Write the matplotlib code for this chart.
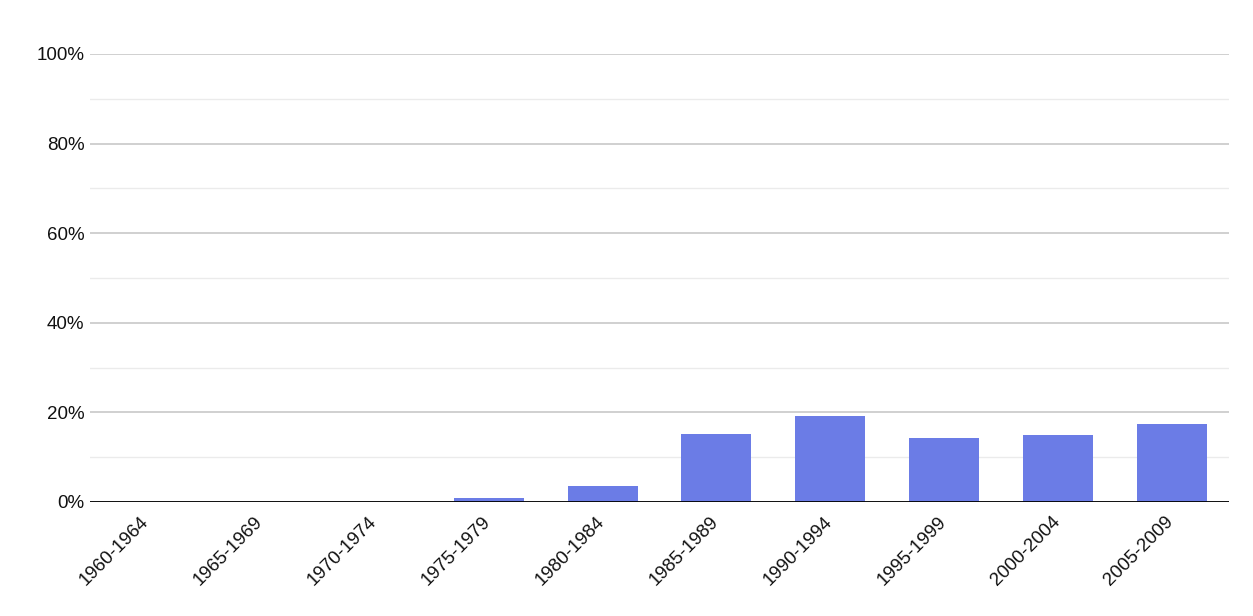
import numpy as np
import matplotlib.pyplot as plt
import matplotlib.transforms as mtransforms
from matplotlib.ticker import MultipleLocator, FuncFormatter

plt.rcParams['font.family'] = ['Liberation Sans', 'DejaVu Sans']

periods = ['1960-1964', '1965-1969', '1970-1974', '1975-1979', '1980-1984',
           '1985-1989', '1990-1994', '1995-1999', '2000-2004', '2005-2009']
shares = [0.0, 0.0, 0.0, 0.8, 3.6, 15.2, 19.2, 14.2, 14.9, 17.5]

fig = plt.figure(figsize=(12.53, 6.16), dpi=100)
ax = fig.add_axes([90/1253, 1 - 502/616, (1229-90)/1253, (502-54)/616])

x = np.arange(len(periods))
ax.bar(x, shares, width=0.614, color='#6b7ce6', zorder=3)

ax.set_xlim(-0.5, len(periods) - 0.5)
ax.set_ylim(0, 100)
ax.yaxis.set_major_locator(MultipleLocator(20))
ax.yaxis.set_minor_locator(MultipleLocator(10))
ax.yaxis.set_major_formatter(FuncFormatter(lambda v, p: f'{v:.0f}%'))
ax.grid(axis='y', which='major', color='#c4c4c4', linewidth=1.1, zorder=0)
ax.grid(axis='y', which='minor', color='#ebebeb', linewidth=1.0, zorder=0)
ax.axhline(0, color='black', linewidth=1.3, zorder=4)

for s in ax.spines.values():
    s.set_visible(False)
ax.tick_params(axis='both', which='both', length=0)
ax.tick_params(axis='y', labelsize=13.5, pad=4, colors='#111111')
ax.set_xticks(x)
ax.set_xticklabels(periods, rotation=45, ha='right', rotation_mode='anchor',
                   fontsize=13.5, color='#111111')
ax.tick_params(axis='x', pad=8)

shift = mtransforms.ScaledTranslation(-7/100, 0, fig.dpi_scale_trans)
for lbl in ax.get_xticklabels():
    lbl.set_transform(lbl.get_transform() + shift)

fig.savefig('out.png', dpi=100)
